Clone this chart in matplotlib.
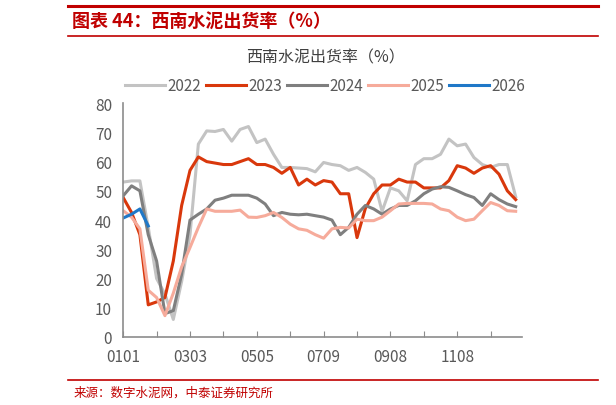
import numpy as np
import matplotlib
matplotlib.use('Agg')
import matplotlib.pyplot as plt
from matplotlib.lines import Line2D

plt.rcParams['font.family'] = ['Noto Sans CJK SC', 'DejaVu Sans']

years = ['2022', '2023', '2024', '2025', '2026']
colors = ['#c3c3c3', '#d9380c', '#7f7f7f', '#f6ab9b', '#1f78c8']

s2022 = [53, 53.4, 53.4, 37.5, 20, 14.7, 6, 19, 35, 66, 70.5, 70.3, 71, 67, 71, 72,
         66.5, 67.7, 62.5, 58, 58, 57.8, 57.6, 56.5, 59.7, 59, 58.6, 57, 58, 56.3,
         54, 43, 51, 50, 46.6, 59, 61, 61, 62.5, 67.7, 65.4, 66, 61.4, 59, 58, 59, 59, 48]
s2023 = [47.7, 42.6, 35, 11, 12, 13.5, 26, 45, 57, 61.6, 60, 59.5, 59, 59, 60, 61,
         59, 59, 58, 56, 58, 52, 54, 52, 53.5, 53, 49, 49, 34, 44, 49, 52,
         52, 54, 53, 53, 51, 51, 51, 53.5, 58.6, 57.8, 56, 57.8, 58.6, 55.7, 50, 47]
s2024 = [48.3, 51.7, 50, 35, 26, 8, 9, 21.5, 40, 42, 43.8, 46.8, 47.5, 48.5, 48.5, 48.5,
         47.5, 45.5, 41.5, 42.6, 42, 41.8, 42, 41.5, 41, 40, 35, 37.5, 42, 45,
         43.8, 42, 43.8, 45, 45, 46.6, 49, 50.6, 51.4, 51.2, 50, 48.7, 47.7, 45, 49, 47, 45.5, 44.6]
s2025 = [43.2, 41, 37, 16, 13.5, 7.3, 15, 24, 30.6, 37.5, 43.8, 43, 43, 43, 43.4, 41,
         40.9, 41.5, 42.6, 40.9, 38.6, 37, 36.5, 35, 33.8, 37, 37.5, 37.3, 40.3, 39.8,
         39.8, 41, 43.2, 45.5, 45.7, 45.7, 45.7, 45.5, 43.8, 43.2, 41, 39.8, 40.3, 43.2, 46, 45, 43.2, 43]
s2026 = [40.7, 42, 43.8, 38]
series = [s2022, s2023, s2024, s2025, s2026]

tick_labels = ['0101', '0303', '0505', '0709', '0908', '1108']

fig = plt.figure(figsize=(6.16, 4.06), dpi=100)
ax = fig.add_axes([0.2, 0.1675, 0.648, 0.576])

for name, c, s in zip(years, colors, series):
    ax.plot(np.arange(len(s)), s, color=c, lw=2.2, label=name)

ax.set_xlim(0, 47.8)
ax.set_ylim(0, 80)
ax.set_yticks(range(0, 81, 10))
ax.set_xticks(np.arange(0, 48, 4), minor=False)
ax.set_xticklabels([tick_labels[i // 2] if i % 2 == 0 else '' for i in range(12)])
for sp in ['top', 'right']:
    ax.spines[sp].set_visible(False)
for sp in ['left', 'bottom']:
    ax.spines[sp].set_color('#8c8c8c')
    ax.spines[sp].set_linewidth(1.2)
ax.tick_params(colors='#8c8c8c', labelcolor='#595959', labelsize=11, length=4)
ax.tick_params(axis='y', length=0, pad=8)
ax.tick_params(axis='x', direction='in', pad=8)

fig.text(0.528, 0.857, '西南水泥出货率（%）', ha='center', va='center',
         fontsize=11.5, color='#404040')
handles = [Line2D([], [], color=c, lw=2.2) for c in colors]
fig.legend(handles, years, loc='center', bbox_to_anchor=(0.528, 0.787), ncol=5,
           frameon=False, fontsize=11, handlelength=2.6, handletextpad=0.2,
           columnspacing=0.3, labelcolor='#595959')

red = '#c00000'
fig.add_artist(Line2D([0.11, 0.97], [0.983, 0.983], color=red, lw=2.2))
fig.add_artist(Line2D([0.11, 0.97], [0.91, 0.91], color=red, lw=1.2))
fig.text(0.117, 0.948, '图表 44：西南水泥出货率（%）', ha='left', va='center',
         fontsize=13, color=red, fontweight='bold', style='italic')
fig.add_artist(Line2D([0.11, 0.97], [0.062, 0.062], color=red, lw=1.2))
fig.text(0.12, 0.032, '来源：数字水泥网，中泰证券研究所', ha='left', va='center',
         fontsize=9, color=red)

fig.savefig('out.png', dpi=100)
